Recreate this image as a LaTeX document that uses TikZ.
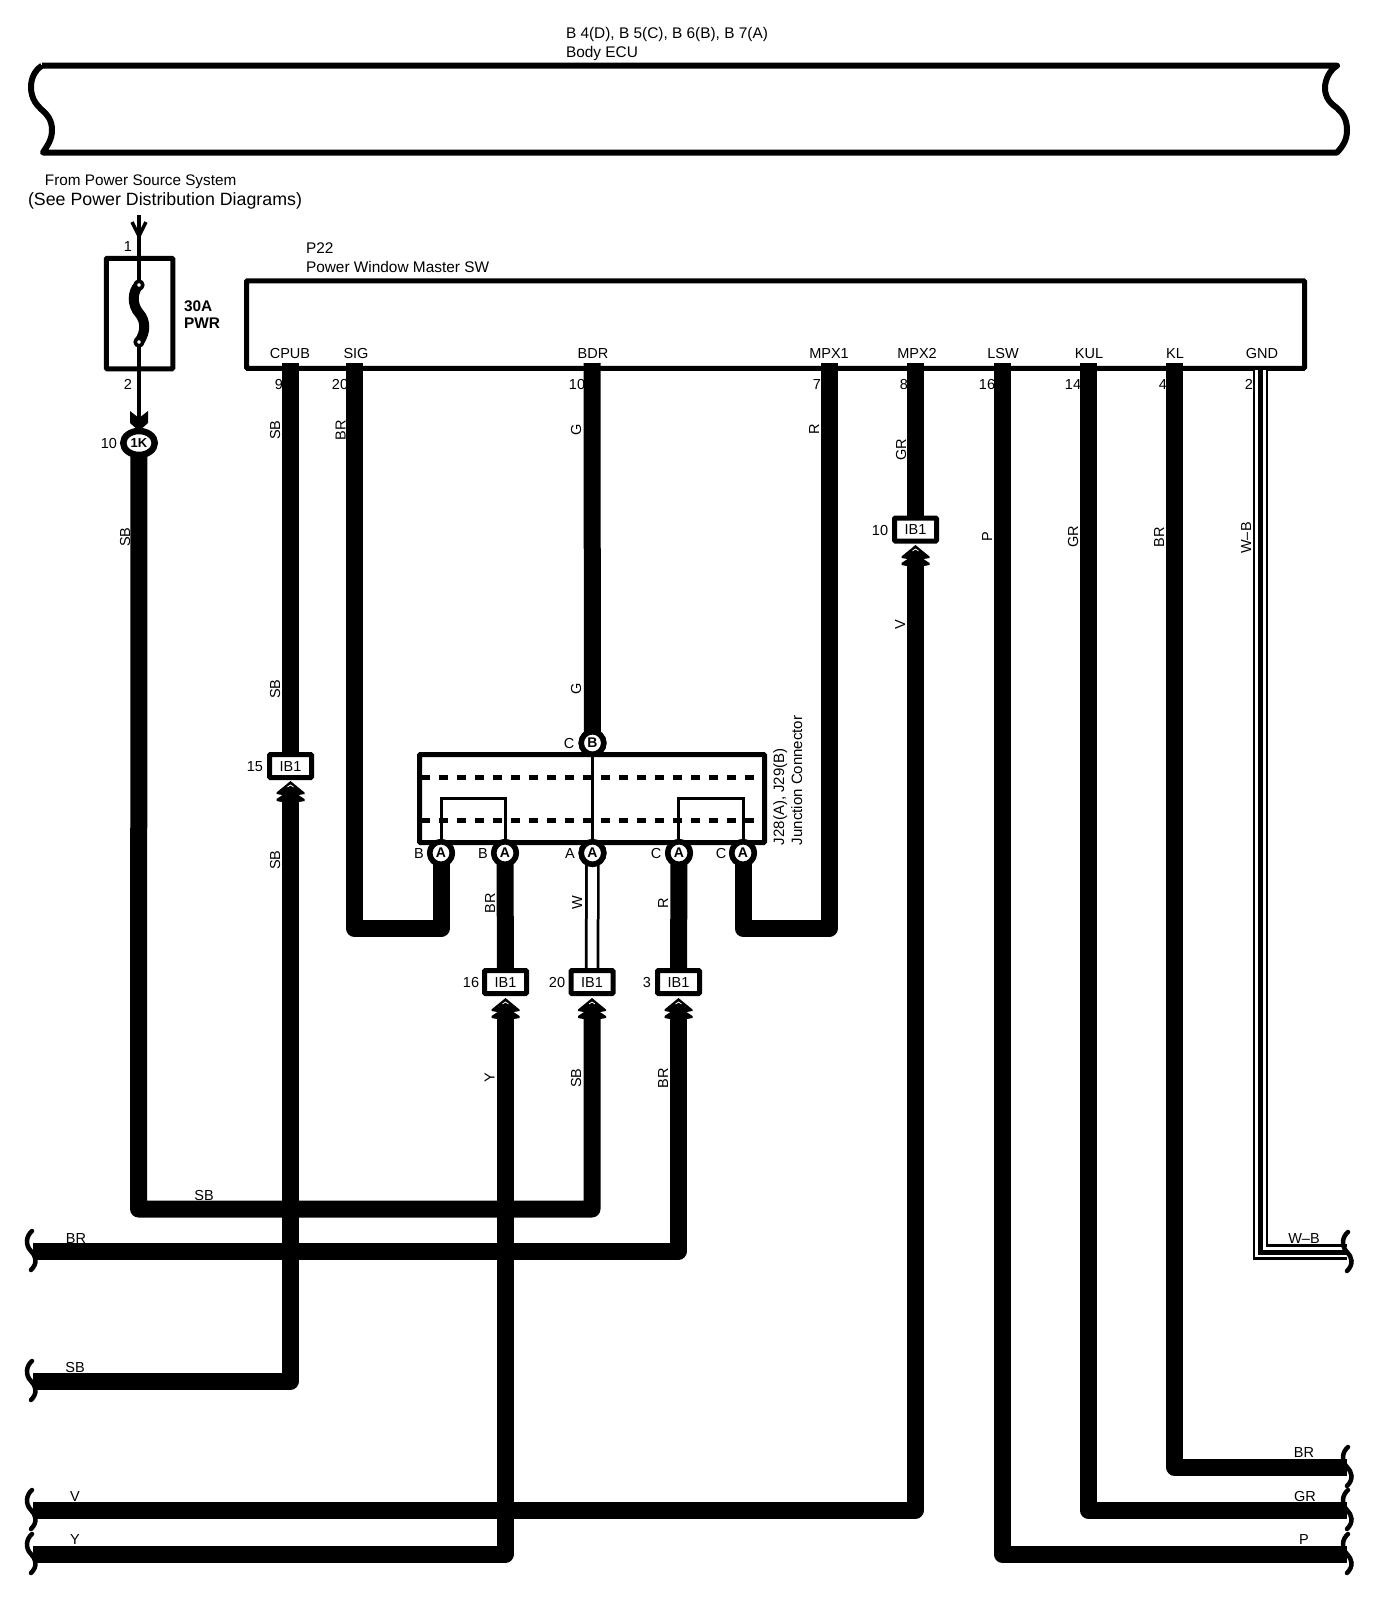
\documentclass[tikz,border=0pt]{standalone}
\usepackage{fontspec}
\setmainfont{Liberation Sans}
\usetikzlibrary{shapes.geometric}
\pgfdeclarelayer{under}
\pgfdeclarelayer{wires}
\pgfsetlayers{under,wires,main}
\newcommand{\fa}{\fontsize{14.5}{16}\selectfont}
\newcommand{\fb}{\fontsize{15.4}{17}\selectfont}
\tikzset{
  lab/.style={inner sep=0pt,outer sep=0pt,text height=10pt,text depth=0pt,font=\fa},
  labb/.style={lab,font=\fb},
  lable/.style={labb,anchor=west},
  vlab/.style={lab,rotate=90},
  wire/.style={line width=17pt,line join=round},
  thin wire/.style={line width=4pt},
  mid wire/.style={line width=3pt},
  boxline/.style={draw,line width=5pt,rounded corners=1pt,inner sep=0pt,outer sep=0pt},
  ibox/.style={boxline,fill=white,minimum width=42pt,minimum height=23pt,lab},
  pinc/.style={draw,circle,line width=5.5pt,fill=white,minimum size=22.5pt,inner sep=0pt,outer sep=0pt,font=\bfseries\fontsize{14}{15}\selectfont},
  chevup/.pic={
    \fill (0,0) -- (14,11.5) -- (14,13) -- (8,14) -- (14,18) -- (14,20) -- (8.5,21) -- (-8.5,21) -- (-14,20) -- (-14,18) -- (-8,14) -- (-14,13) -- (-14,11.5) -- cycle;
    \draw[white,line width=.8pt] (-3,6) -- (0,4) -- (3,6);
  },
  brk/.pic={
    \draw[line width=4.5pt,line cap=round] (1,-20) .. controls (-5,-15) and (-6,-6) .. (0,0) .. controls (5,5) and (7,12) .. (0,19);
  }
}
\begin{document}
\begin{tikzpicture}[x=1pt,y=-1pt]
\useasboundingbox (0,0) rectangle (1392,1618);

% ---------- under the wires: boxes and printed texts
\begin{pgfonlayer}{under}
\node[lable] (t1) at (566,33) {B 4(D), B 5(C), B 6(B), B 7(A)};
\node[lable] (t2) at (566,52) {Body ECU};
\draw[line width=6pt,line join=round]
  (42,65.7) -- (1337,65.7)
  .. controls (1330,70) and (1325,79) .. (1325,88)
  .. controls (1325,98) and (1331,104) .. (1337,108)
  .. controls (1343,113) and (1347,120) .. (1347,130)
  .. controls (1347,140) and (1343,146) .. (1337,152.5)
  -- (43,152.5)
  .. controls (47,146) and (52,140) .. (52,130)
  .. controls (52,120) and (47,114) .. (42,110)
  .. controls (38,106) and (31,100) .. (31,87)
  .. controls (31,78) and (35,70) .. (42,65.7);

\node[lab,font=\fontsize{15.3}{17}\selectfont,anchor=west] (t3) at (45,180) {From Power Source System};
\node[lab,font=\fontsize{17.8}{19}\selectfont,anchor=west] (t4) at (28,200) {(See Power Distribution Diagrams)};

\node[boxline,rounded corners=1pt,minimum width=66.5pt,minimum height=110.5pt] (fuse) at (139.5,313.5) {};
\node[lab] (n1) at (128,246) {1};
\node[lab] (n2) at (128,384) {2};
\node[lab,font=\bfseries\fontsize{15.4}{17}\selectfont,anchor=west] (t5) at (184,306) {30A};
\node[lab,font=\bfseries\fontsize{15.4}{17}\selectfont,anchor=west] (t6) at (184,323) {PWR};
\node[lab] (n10) at (109,443) {10};

\node[lable] (t7) at (306,248) {P22};
\node[lable] (t8) at (306,267) {Power Window Master SW};
\node[boxline,minimum width=1058pt,minimum height=87.5pt] (p22) at (775.5,324.5) {};

\node[lab] (cpub) at (290,353) {CPUB};
\node[lab] (sig) at (356,353) {SIG};
\node[lab] (bdr) at (593,353) {BDR};
\node[lab] (mpx1) at (829,353) {MPX1};
\node[lab] (mpx2) at (917,353) {MPX2};
\node[lab] (lsw) at (1003,353) {LSW};
\node[lab] (kul) at (1089,353) {KUL};
\node[lab] (kl) at (1175,353) {KL};
\node[lab] (gnd) at (1262,353) {GND};

\node[lab] (a9) at (279,384) {9};
\node[lab] (a20) at (340,384) {20};
\node[lab] (a10) at (577,384) {10};
\node[lab] (a7) at (817,384) {7};
\node[lab] (a8) at (904,384) {8};
\node[lab] (a16) at (987,384) {16};
\node[lab] (a14) at (1073,384) {14};
\node[lab] (a4) at (1163,384) {4};
\node[lab] (a2) at (1249,384) {2};

\node[vlab] (v1) at (125,537) {SB};
\node[vlab] (v2) at (275,430) {SB};
\node[vlab] (v3) at (275,689) {SB};
\node[vlab] (v4) at (275,860) {SB};
\node[vlab] (v5) at (340.5,430) {BR};
\node[vlab] (v6) at (576,430) {G};
\node[vlab] (v7) at (576,689) {G};
\node[vlab] (v8) at (814,429) {R};
\node[vlab] (v9) at (901,450) {GR};
\node[vlab] (v10) at (900,625) {V};
\node[vlab] (v11) at (987,537) {P};
\node[vlab] (v12) at (1073,537) {GR};
\node[vlab] (v13) at (1159,537) {BR};
\node[vlab] (v14) at (1246,538) {W–B};
\node[vlab] (v15) at (490,903) {BR};
\node[vlab] (v16) at (577,903) {W};
\node[vlab] (v17) at (663,903) {R};
\node[vlab] (v18) at (489.5,1078) {Y};
\node[vlab] (v19) at (576,1078) {SB};
\node[vlab] (v20) at (663,1078) {BR};

\node[lab] (h1) at (204,1195) {SB};
\node[lab] (h2) at (76,1238) {BR};
\node[lab] (h3) at (75,1367) {SB};
\node[lab] (h4) at (75,1496) {V};
\node[lab] (h5) at (75,1539) {Y};
\node[lab] (h6) at (1304,1238) {W–B};
\node[lab] (h7) at (1304,1452) {BR};
\node[lab] (h8) at (1305,1496) {GR};
\node[lab] (h9) at (1304,1539) {P};

\node[lab] (pc) at (569,743) {C};
\node[lab] (pb1) at (419,853) {B};
\node[lab] (pb2) at (483,853) {B};
\node[lab] (pa) at (570,853) {A};
\node[lab] (pc1) at (656,853) {C};
\node[lab] (pc2) at (721,853) {C};

\node[lab,font=\fontsize{15}{17}\selectfont,rotate=90,anchor=west] (j1) at (779,845) {J28(A), J29(B)};
\node[lab,font=\fontsize{15}{17}\selectfont,rotate=90,anchor=west] (j2) at (797,845) {Junction Connector};
\end{pgfonlayer}

% ---------- junction connector
\draw[line width=5pt,dash pattern=on 9pt off 9pt] (421,777) -- (763,777);
\draw[line width=5pt,dash pattern=on 9pt off 9pt] (421,820) -- (763,820);
\node[boxline,minimum width=345pt,minimum height=88pt] (jbox) at (592,798.5) {};

% ---------- connectors and terminals
\node[pinc] (ja) at (441,853) {A};
\node[pinc] (jb) at (505,853) {A};
\node[pinc] (jc) at (592.5,853) {A};
\node[pinc] (jd) at (679,853) {A};
\node[pinc] (je) at (743,853) {A};
\node[pinc] (jt) at (592.5,743) {B};

\node[ibox] (ib15) at (290.5,766) {IB1};
\node[ibox] (ib10) at (915.5,529.5) {IB1};
\node[ibox] (ib16) at (505.5,982) {IB1};
\node[ibox] (ib20) at (592,982) {IB1};
\node[ibox] (ib3) at (678.5,982) {IB1};
\node[lab] (l15) at (255,766) {15};
\node[lab] (l10) at (880,530) {10};
\node[lab] (l16) at (471,982) {16};
\node[lab] (l20) at (557,982) {20};
\node[lab] (l3) at (647,982) {3};

\node[draw,ellipse,line width=6.5pt,fill=white,minimum width=31.5pt,minimum height=24pt,inner sep=0pt,outer sep=0pt,font=\bfseries\fontsize{13}{14}\selectfont] (k1) at (139,443) {1K};

\coordinate (p9) at (290.5,363);
\coordinate (p20) at (354.5,363);
\coordinate (p10) at (592,363);
\coordinate (p7) at (829,363);
\coordinate (p8) at (915.5,363);
\coordinate (p16) at (1002,363);
\coordinate (p14) at (1088,363);
\coordinate (p4) at (1174.5,363);
\coordinate (p2) at (1260.5,370);

\coordinate (c15) at (290.5,797);
\coordinate (c10) at (915.5,561);
\coordinate (c16) at (505.5,1014);
\coordinate (c20) at (592,1014);
\coordinate (c3) at (678.5,1014);

\coordinate (sigb) at (441,928.5);
\coordinate (mpxb) at (743,928.5);
\coordinate (sbl) at (138.5,1209);
\coordinate (sbr) at (592,1209);
\coordinate (lBR) at (33,1251);
\coordinate (lSB) at (33,1381);
\coordinate (lV) at (33,1510);
\coordinate (lY) at (33,1554);
\coordinate (rWB) at (1347,1252);
\coordinate (rBR) at (1347,1467);
\coordinate (rGR) at (1347,1510);
\coordinate (rP) at (1347,1554);
\coordinate (fin) at (139,215);
\coordinate (ftop) at (139,285);
\coordinate (fbot) at (139,342);

\begin{pgfonlayer}{wires}
\draw[wire] (p9) -- (ib15.center);
\draw[wire] (c15) |- (lSB);
\draw[wire] (p20) |- (sigb) -- (ja.center);
\draw[wire] (p10) -- (jt.center);
\draw[wire] (p7) |- (mpxb) -- (je.center);
\draw[wire] (p8) -- (ib10.center);
\draw[wire] (c10) |- (lV);
\draw[wire] (p16) |- (rP);
\draw[wire] (p14) |- (rGR);
\draw[wire] (p4) |- (rBR);
\draw[wire] (jb.center) -- (ib16.center);
\draw[wire] (c16) |- (lY);
\draw[wire] (jd.center) -- (ib3.center);
\draw[wire] (c3) |- (lBR);
\draw[wire] (k1.center) -- (sbl) -- (sbr) -- (c20);
\draw[line width=14.5pt] (jc.center) -- (ib20.center);
\draw[white,line width=9pt] (jc.center) -- (ib20.center);
\draw[line width=15.5pt] (p2) |- (rWB);
\draw[white,line width=10.5pt] (p2) |- (rWB);
\draw[line width=5pt] (p2) |- (rWB);
\draw[thin wire] (fin) -- (ftop);
\draw[thin wire] (fbot) -- (k1.center);
\end{pgfonlayer}

% ---------- fuse element and arrowheads
\draw[line width=3.5pt] (132,222) -- (139,236) -- (146,222);
\draw[line width=10pt,line cap=round] (ftop) .. controls (132,292) and (132,305) .. (139,313) .. controls (146,321) and (146,332) .. (fbot);
\filldraw[fill=white,line width=3.5pt] (ftop) circle (3.8pt);
\filldraw[fill=white,line width=3.5pt] (fbot) circle (3.8pt);
\fill (130,411) -- (139,418) -- (148,411) -- (148,423) -- (139,431) -- (130,423) -- cycle;

\draw[mid wire] (jt.center) -- (jc.center);
\draw[mid wire] (441,845) |- (505.5,798) -- (505.5,845);
\draw[mid wire] (678,845) |- (743,798) -- (743,845);
\node[pinc] at (jt.center) {B};
\node[pinc] at (jc.center) {A};
\node[pinc] at (ja.center) {A};
\node[pinc] at (jb.center) {A};
\node[pinc] at (jd.center) {A};
\node[pinc] at (je.center) {A};

\pic at (290.5,781) {chevup};
\pic at (915.5,545) {chevup};
\pic at (505.5,998) {chevup};
\pic at (592,998) {chevup};
\pic at (678.5,998) {chevup};

\pic at (31,1251) {brk};
\pic at (31,1381) {brk};
\pic at (31,1510) {brk};
\pic at (31,1554) {brk};
\pic at (1347,1252) {brk};
\pic at (1347,1467) {brk};
\pic at (1347,1510) {brk};
\pic at (1347,1554) {brk};
\end{tikzpicture}
\end{document}
